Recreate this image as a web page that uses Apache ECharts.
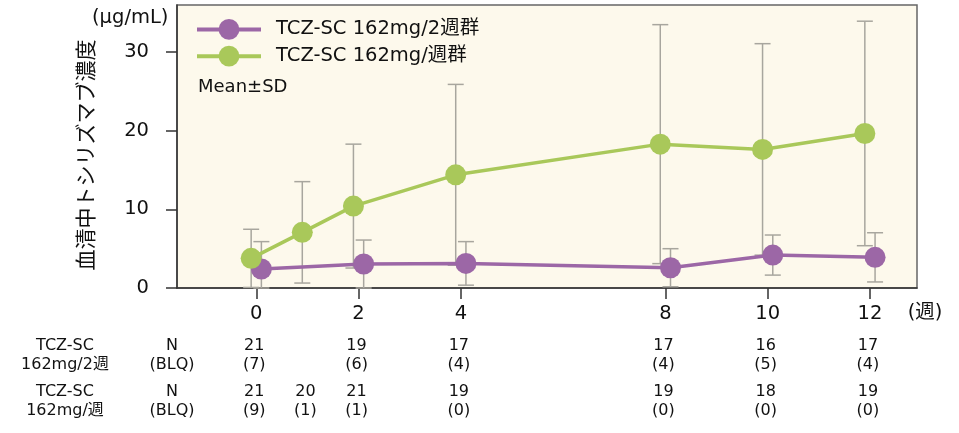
<!DOCTYPE html>
<html>
<head>
<meta charset="utf-8">
<script src="https://cdn.jsdelivr.net/npm/echarts@6/dist/echarts.min.js"></script>
<style>html,body{margin:0;padding:0;background:#fff}#c{width:959px;height:433px}</style>
</head>
<body>
<div id="c"></div>
<script>
// ---- data ----
const xTicks = [0, 2, 4, 8, 10, 12];
const yTicks = [0, 10, 20, 30];
const name2w = 'TCZ-SC 162mg/2週群';
const name1w = 'TCZ-SC 162mg/週群';
const weeks2w = [0, 2, 4, 8, 10, 12];
const mean2w = [2.42, 3.05, 3.13, 2.58, 4.19, 3.90];
const sd2w = [3.48, 3.05, 2.77, 2.42, 2.55, 3.13];
const weeks1w = [0, 1, 2, 4, 8, 10, 12];
const mean1w = [3.77, 7.08, 10.42, 14.40, 18.30, 17.63, 19.66];
const sd1w = [3.70, 6.45, 7.88, 11.50, 15.20, 13.45, 14.28];
const n2w = ['21', '19', '17', '17', '16', '17'];
const blq2w = ['(7)', '(6)', '(4)', '(4)', '(5)', '(4)'];
const n1w = ['21', '20', '21', '19', '19', '18', '19'];
const blq1w = ['(9)', '(1)', '(1)', '(0)', '(0)', '(0)', '(0)'];

// ---- style ----
const FONT = '"DejaVu Sans", "Noto Sans CJK JP", sans-serif';
const PURPLE = '#9c67a6';
const GREEN = '#a9c85a';
const ERR = '#a8a69e';
const OFF = 0.1;

const chart = echarts.init(document.getElementById('c'));

function errData(weeks, mean, sd, off) {
  return weeks.map((w, i) => [w + off, Math.max(0, mean[i] - sd[i]), mean[i] + sd[i]]);
}
function errSeries(data, z) {
  return {
    type: 'custom', z: z, silent: true,
    encode: { x: 0, y: [1, 2] },
    data: data,
    renderItem: function (params, api) {
      const x = api.value(0);
      const hi = api.coord([x, api.value(2)]);
      const lo = api.coord([x, api.value(1)]);
      const hw = 8;
      const st = { stroke: ERR, lineWidth: 1.5 };
      return { type: 'group', children: [
        { type: 'line', shape: { x1: hi[0], y1: hi[1], x2: lo[0], y2: lo[1] }, style: st },
        { type: 'line', shape: { x1: hi[0] - hw, y1: hi[1], x2: hi[0] + hw, y2: hi[1] }, style: st },
        { type: 'line', shape: { x1: lo[0] - hw, y1: lo[1], x2: lo[0] + hw, y2: lo[1] }, style: st }
      ]};
    }
  };
}

const option = {
  animation: false,
  backgroundColor: '#fff',
  textStyle: { fontFamily: FONT },
  grid: { left: 177, right: 42, top: 5, bottom: 145, show: true,
          backgroundColor: '#fdf9ec', borderColor: '#666', borderWidth: 1.5 },
  legend: {
    left: 190, top: 14, orient: 'vertical', itemWidth: 64, itemHeight: 26, itemGap: 6,
    lineStyle: { width: 4 },
    textStyle: { fontSize: 19.5, color: '#111', fontFamily: FONT, padding: [0, 0, 0, 10] },
    data: [name2w, name1w]
  },
  xAxis: {
    type: 'value', min: -1.55, max: 12.92,
    axisLine: { onZero: false, lineStyle: { color: '#333', width: 1.5 } },
    axisTick: { show: true, length: 11, lineStyle: { color: '#333', width: 1.5 }, customValues: xTicks },
    axisLabel: { fontSize: 19.5, color: '#111', margin: 16, customValues: xTicks },
    splitLine: { show: false }
  },
  yAxis: {
    type: 'value', min: 0, max: 36,
    axisLine: { show: true, onZero: false, lineStyle: { color: '#333', width: 1.5 } },
    axisTick: { show: true, length: 11, lineStyle: { color: '#333', width: 1.5 }, customValues: yTicks },
    axisLabel: { fontSize: 19.5, color: '#111', margin: 28, customValues: yTicks },
    splitLine: { show: false }
  },
  series: [
    errSeries(errData(weeks2w, mean2w, sd2w, OFF), 1),
    errSeries(errData(weeks1w, mean1w, sd1w, -OFF), 1),
    {
      name: name2w, type: 'line', z: 3, symbol: 'circle', symbolSize: 21,
      itemStyle: { color: PURPLE }, lineStyle: { color: PURPLE, width: 3.5 },
      data: weeks2w.map((w, i) => [w + OFF, mean2w[i]])
    },
    {
      name: name1w, type: 'line', z: 4, symbol: 'circle', symbolSize: 21,
      itemStyle: { color: GREEN }, lineStyle: { color: GREEN, width: 3.5 },
      data: weeks1w.map((w, i) => [w - OFF, mean1w[i]])
    }
  ]
};
chart.setOption(option);

// ---- annotations using the axis scale ----
function px(w) { return chart.convertToPixel({ xAxisIndex: 0 }, w) - 2; }
function txt(x, y, s, size, align) {
  return { type: 'text', x: x, y: y, silent: true,
    style: { text: s, fontSize: size || 16, fontFamily: FONT, fill: '#111',
             align: align || 'center', verticalAlign: 'middle' } };
}
const g = [];
g.push(txt(92, 18, '(μg/mL)', 19.5, 'left'));
g.push({ type: 'text', x: 88, y: 155, rotation: Math.PI / 2, silent: true,
  style: { text: '血清中トシリズマブ濃度', fontSize: 21, fontFamily: FONT, fill: '#111',
           align: 'center', verticalAlign: 'middle' } });
g.push(txt(198, 87, 'Mean±SD', 18, 'left'));
g.push(txt(925, 313, '(週)', 19.5, 'center'));
g.push(txt(65, 346, 'TCZ-SC'));
g.push(txt(65, 365, '162mg/2週'));
g.push(txt(172, 346, 'N'));
g.push(txt(172, 365, '(BLQ)'));
g.push(txt(65, 392, 'TCZ-SC'));
g.push(txt(65, 411, '162mg/週'));
g.push(txt(172, 392, 'N'));
g.push(txt(172, 411, '(BLQ)'));
weeks2w.forEach((w, i) => { g.push(txt(px(w), 346, n2w[i])); g.push(txt(px(w), 365, blq2w[i])); });
weeks1w.forEach((w, i) => { g.push(txt(px(w), 392, n1w[i])); g.push(txt(px(w), 411, blq1w[i])); });
chart.setOption({ graphic: g });
</script>
</body>
</html>
